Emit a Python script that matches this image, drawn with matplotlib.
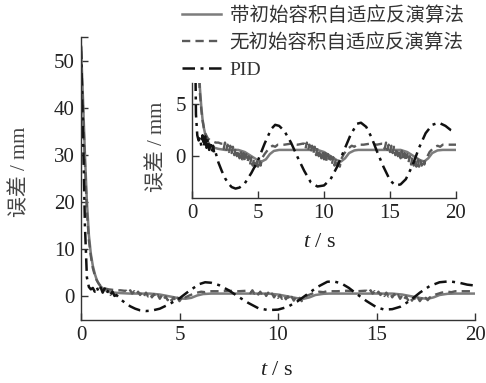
import matplotlib
matplotlib.use("Agg")
import matplotlib.pyplot as plt

plt.rcParams['font.family'] = ['Liberation Serif', 'Noto Sans CJK SC', 'DejaVu Sans']
plt.rcParams['mathtext.fontset'] = 'custom'
plt.rcParams['mathtext.rm'] = 'Liberation Serif'
plt.rcParams['mathtext.it'] = 'Liberation Serif:italic'

# ---------------- data ----------------
series_labels = ['带初始容积自适应反演算法', '无初始容积自适应反演算法', 'PID']

t_with = [0.0, 0.1, 0.2, 0.3, 0.4, 0.5, 0.6, 0.7, 0.8, 0.9, 1.0, 1.2, 1.4, 1.7, 2.0, 2.5,
          3.5, 4.0, 4.5, 5.0, 5.3, 5.6, 5.9, 6.2, 6.6, 9.5, 10.0, 10.5, 11.0, 11.3, 11.6,
          11.9, 12.3, 12.6, 15.8, 16.3, 16.8, 17.3, 17.6, 17.9, 18.2, 18.6, 19.0, 20.0]
e_with = [53.0, 42.0, 30.0, 20.0, 13.0, 9.0, 6.5, 4.8, 3.5, 2.7, 2.1, 1.4, 1.0, 0.8, 0.7, 0.6,
          0.6, 0.4, 0.0, -0.4, -0.5, -0.3, 0.2, 0.5, 0.6, 0.6, 0.4, 0.0, -0.4, -0.5, -0.2,
          0.3, 0.55, 0.6, 0.6, 0.4, 0.0, -0.4, -0.5, -0.2, 0.3, 0.55, 0.6, 0.6]

t_without = [0.0, 0.1, 0.2, 0.3, 0.4, 0.5, 0.6, 0.7, 0.8, 0.9, 1.0, 1.2, 1.4, 1.6, 1.8, 2.0, 2.2,
             2.3, 2.4, 2.5, 2.6, 2.7, 2.8, 2.9, 3.0, 3.1, 3.2, 3.3, 3.4, 3.5, 3.6, 3.7, 3.8,
             3.9, 4.0, 4.1, 4.2, 4.3, 4.4, 4.5, 4.6, 4.7, 4.8, 4.9, 5.0, 5.1, 5.2, 5.3,
             5.5, 5.8, 6.1, 6.3, 6.5, 7.0, 7.5, 8.0, 8.4,
             8.5, 8.6, 8.7, 8.8, 8.9, 9.0, 9.1, 9.2, 9.3, 9.4, 9.5, 9.6, 9.7, 9.8, 9.9, 10.0,
             10.1, 10.2, 10.3, 10.4, 10.5, 10.6, 10.7, 10.8, 10.9, 11.0, 11.1, 11.2, 11.3,
             11.5, 11.8, 12.1, 12.3, 12.5, 13.0, 13.5, 14.0, 14.4,
             14.5, 14.6, 14.7, 14.8, 14.9, 15.0, 15.1, 15.2, 15.3, 15.4, 15.5, 15.6, 15.7,
             15.8, 15.9, 16.0, 16.1, 16.2, 16.3, 16.4, 16.5, 16.6, 16.7, 16.8, 16.9, 17.0,
             17.1, 17.2, 17.3, 17.4, 17.5, 17.6, 17.7, 17.8,
             18.0, 18.3, 18.6, 18.8, 19.0, 19.5, 20.0]
e_without = [52.0, 40.0, 28.0, 18.0, 12.0, 8.5, 6.0, 4.5, 3.4, 2.7, 2.2, 1.7, 1.5, 1.4, 1.3, 1.3, 1.2,
             1.2, 0.7, 1.3, 0.6, 1.1, 0.4, 1.0, 0.3, 0.9, 0.1, 0.8, 0.0, 0.6, -0.2, 0.5, -0.3,
             0.3, -0.5, 0.2, -0.6, 0.0, -0.8, -0.1, -0.9, -0.2, -1.0, -0.3, -1.0, -0.4, -0.9, -0.2,
             0.2, 0.7, 1.0, 0.9, 1.1, 1.1, 1.2, 1.1, 1.2,
             1.2, 0.7, 1.3, 0.6, 1.1, 0.4, 1.0, 0.3, 0.9, 0.1, 0.8, 0.0, 0.6, -0.2, 0.5, -0.3,
             0.3, -0.5, 0.2, -0.6, 0.0, -0.8, -0.1, -0.9, -0.2, -1.0, -0.3, -1.0, -0.3,
             0.2, 0.7, 1.0, 0.9, 1.1, 1.1, 1.2, 1.1, 1.2,
             1.2, 0.7, 1.3, 0.6, 1.1, 0.4, 1.0, 0.3, 0.9, 0.1, 0.8, 0.0, 0.6,
             -0.2, 0.5, -0.3, 0.3, -0.5, 0.2, -0.6, 0.0, -0.8, -0.1, -0.9, -0.2, -1.0,
             -0.3, -1.0, -0.4, -0.9, -0.3, -0.8, -0.2, -0.1,
             0.4, 0.8, 1.0, 0.9, 1.1, 1.1, 1.1]

t_pid = [0.0, 0.1, 0.2, 0.3, 0.4, 0.5, 0.6, 0.7, 0.8, 0.9, 1.0, 1.1, 1.2, 1.3, 1.4, 1.5,
         1.6, 1.7, 1.8, 2.0, 2.25, 2.5, 2.75, 3.0, 3.3, 3.6, 4.0, 4.5, 5.0, 5.5, 6.0, 6.3,
         6.6, 7.0, 7.5, 8.0, 8.5, 9.0, 9.5, 10.0, 10.5, 11.0, 11.5, 12.0, 12.5, 12.8, 13.2,
         13.6, 14.0, 14.5, 15.0, 15.4, 15.8, 16.2, 16.7, 17.2, 17.7, 18.2, 18.7, 19.2, 19.6, 20.0]
e_pid = [53.0, 35.0, 15.0, 4.0, 2.0, 1.5, 1.8, 1.0, 2.0, 0.9, 1.9, 0.8, 1.7, 0.6, 1.4, 0.4,
         1.0, 0.1, 0.3, -0.6, -1.4, -2.1, -2.6, -2.95, -3.1, -3.0, -2.6, -1.6, -0.4, 1.2, 2.6, 3.0,
         2.9, 2.4, 1.3, -0.1, -1.4, -2.5, -2.9, -2.8, -2.2, -1.0, 0.5, 2.0, 3.1, 3.2, 2.8,
         1.8, 0.5, -1.0, -2.3, -2.8, -2.7, -2.2, -0.9, 0.8, 2.2, 3.0, 3.2, 2.9, 2.5, 2.3]

main_yticks = [0, 10, 20, 30, 40, 50, 55]
main_yticklabels = ['0', '10', '20', '30', '40', '50', '']
xticks = [0, 5, 10, 15, 20]
inset_yticks = [0, 5]
ylabel_text = '误差 / mm'
xlabel_text = '$t$ / s'

# ---------------- styles ----------------
W, H = 486, 383
fig = plt.figure(figsize=(W / 100, H / 100), dpi=100)

def frac(x0, y0, x1, y1):
    return [x0 / W, 1 - y1 / H, (x1 - x0) / W, (y1 - y0) / H]

c_with = '#7c7c7c'
c_without = '#5a5a5a'
c_pid = '#111111'
pid_dash = (5, 2.2, 1.2, 2.2)

def draw(ax):
    l1, = ax.plot(t_with, e_with, color=c_with, lw=1.8, solid_joinstyle='round')
    l2, = ax.plot(t_without, e_without, color=c_without, lw=1.7, linestyle=(0, (3.5, 2.2)))
    l3, = ax.plot(t_pid, e_pid, color=c_pid, lw=1.8, linestyle=(0, pid_dash))
    for s in ['top', 'right']:
        ax.spines[s].set_visible(False)
    for s in ['left', 'bottom']:
        ax.spines[s].set_linewidth(1.0)
        ax.spines[s].set_color('#333333')
    ax.tick_params(direction='in', length=5, width=1.0, color='#333333',
                   labelsize=15, pad=4.5, labelcolor='#222222')
    return l1, l2, l3

ax = fig.add_axes(frac(81, 37, 475, 320))
handles = draw(ax)
ax.set_xlim(0, 20)
ax.set_ylim(-5, 55)
ax.set_xticks(xticks)
ax.set_yticks(main_yticks)
ax.set_yticklabels(main_yticklabels)
ax.set_xlabel(xlabel_text, fontsize=16, color='#222222')
ax.set_ylabel(ylabel_text, fontsize=15, color='#444444')
ax.xaxis.set_label_coords((277 - 81) / 394, (320 - 361) / 283)
ax.yaxis.set_label_coords((30 - 81) / 394, (320 - 172) / 283)

axi = fig.add_axes(frac(192, 83, 456, 198))
draw(axi)
axi.set_xlim(0, 20)
axi.set_ylim(-4, 7)
axi.set_xticks(xticks)
axi.set_yticks(inset_yticks)
axi.set_xlabel(xlabel_text, fontsize=16, color='#222222')
axi.set_ylabel(ylabel_text, fontsize=15, color='#444444')
axi.xaxis.set_label_coords((320 - 192) / 264, (198 - 233) / 115)
axi.yaxis.set_label_coords((167 - 192) / 264, (198 - 147) / 115)

leg = fig.legend(handles, series_labels, loc='upper left',
                 bbox_to_anchor=(182 / W, 1 - 6 / H), bbox_transform=fig.transFigure,
                 frameon=False, fontsize=14, borderpad=0, handlelength=2.0,
                 handletextpad=0.45, labelspacing=0.45, borderaxespad=0)
for txt in leg.get_texts():
    txt.set_color('#333333')

fig.savefig('out.png', dpi=100)
